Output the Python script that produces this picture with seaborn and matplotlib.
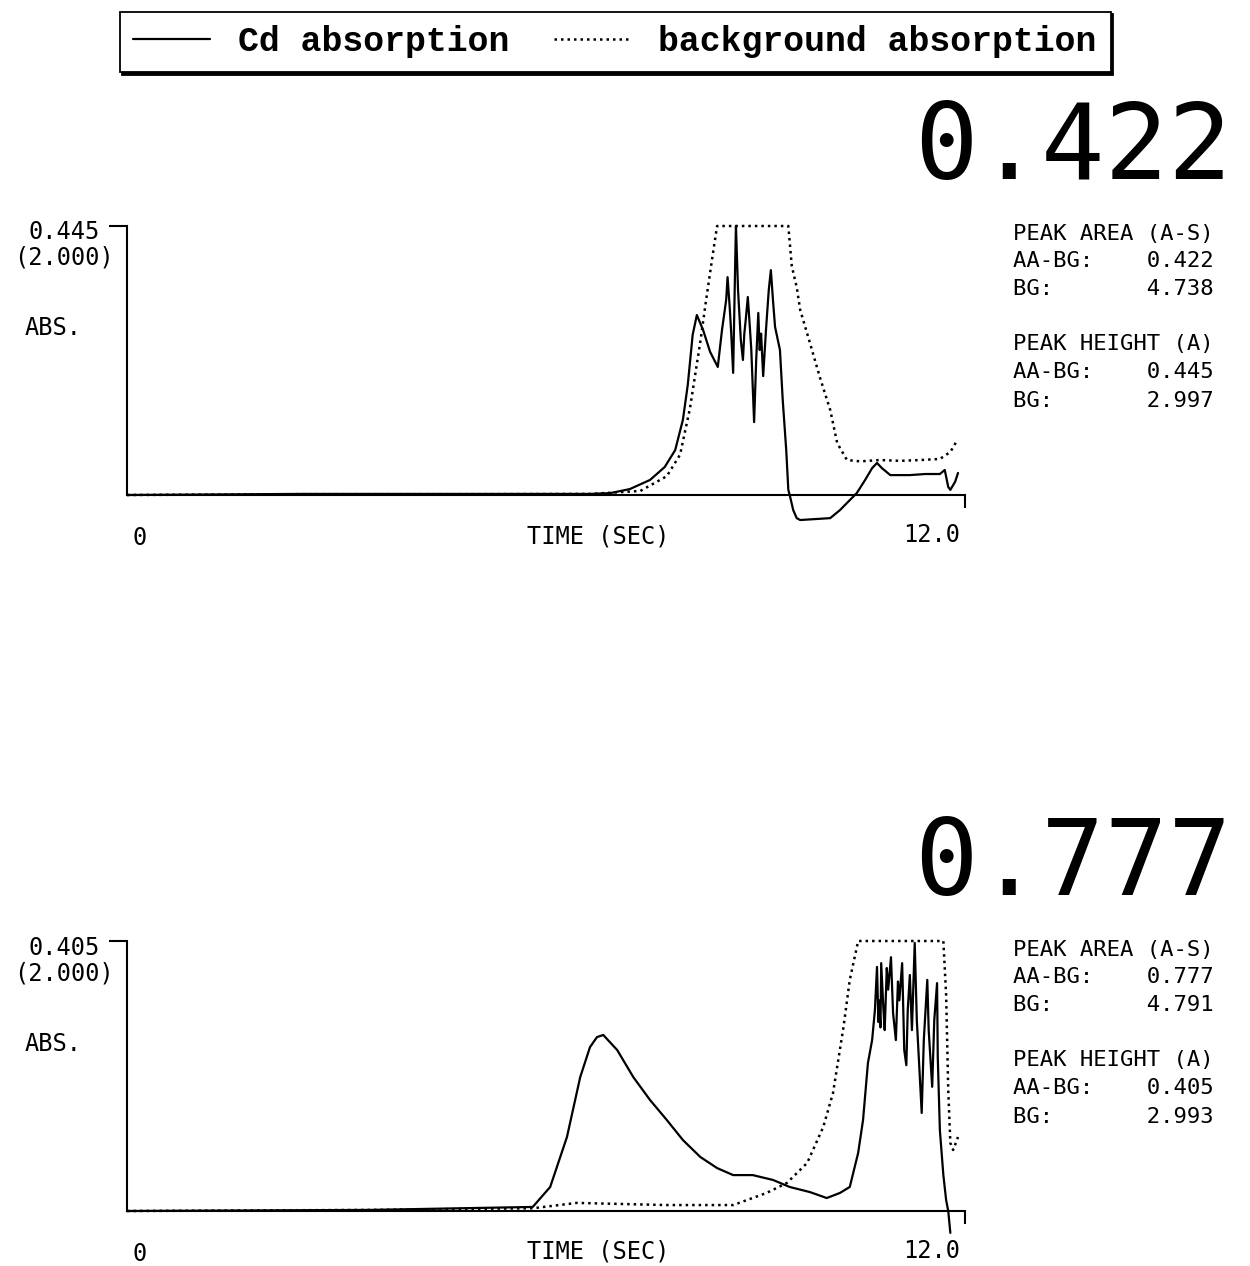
import matplotlib
matplotlib.use("Agg")
import matplotlib.pyplot as plt
import seaborn as sns
from matplotlib.font_manager import FontProperties
from matplotlib.lines import Line2D

# ---- data (time in seconds, absorbance as fraction of full scale) ----
top_cd_t = [0.0, 2.48, 4.77, 6.63, 6.92, 7.20, 7.49, 7.70, 7.85, 7.96, 8.03, 8.10, 8.16,
            8.25, 8.35, 8.46, 8.52, 8.58, 8.60, 8.63, 8.65, 8.68, 8.71, 8.72, 8.75, 8.79,
            8.82, 8.84, 8.86, 8.89, 8.92, 8.94, 8.98, 9.01, 9.04, 9.06, 9.08, 9.11, 9.15,
            9.19, 9.22, 9.25, 9.28, 9.32, 9.35, 9.39, 9.44, 9.47, 9.49, 9.54, 9.59, 9.64,
            10.07, 10.21, 10.35, 10.45, 10.57, 10.67, 10.74, 10.81, 10.93, 11.21, 11.43,
            11.64, 11.71, 11.76, 11.79, 11.86, 11.90]
top_cd_abs = [0.0, 0.004, 0.004, 0.004, 0.007, 0.022, 0.056, 0.104, 0.167, 0.279, 0.409,
              0.595, 0.669, 0.613, 0.532, 0.476, 0.613, 0.725, 0.810, 0.700, 0.613, 0.454,
              0.874, 1.0, 0.762, 0.576, 0.502, 0.600, 0.651, 0.736, 0.620, 0.539, 0.271,
              0.502, 0.677, 0.539, 0.600, 0.442, 0.613, 0.762, 0.836, 0.725, 0.625, 0.576,
              0.539, 0.353, 0.167, 0.019, 0.0, -0.056, -0.086, -0.093, -0.086, -0.056,
              -0.019, 0.007, 0.056, 0.100, 0.119, 0.100, 0.074, 0.074, 0.078, 0.078,
              0.093, 0.030, 0.019, 0.050, 0.082]

top_bg_t = [0.0, 2.48, 4.77, 6.63, 7.35, 7.73, 7.92, 8.06, 8.21, 8.29, 8.38, 8.45, 9.47,
            9.52, 9.59, 9.64, 9.78, 9.92, 10.07, 10.17, 10.31, 10.50, 10.78, 11.07, 11.36,
            11.64, 11.79, 11.89]
top_bg_abs = [0.0, 0.003, 0.003, 0.004, 0.015, 0.07, 0.15, 0.32, 0.57, 0.72, 0.88, 1.0,
              1.0, 0.85, 0.773, 0.688, 0.565, 0.439, 0.316, 0.193, 0.130, 0.125, 0.130,
              0.127, 0.130, 0.134, 0.160, 0.204]

bot_cd_t = [0.0, 3.48, 5.81, 6.06, 6.30, 6.49, 6.63, 6.73, 6.82, 7.02, 7.25, 7.49, 7.73,
            7.96, 8.21, 8.45, 8.68, 8.96, 9.25, 9.49, 9.78, 10.02, 10.21, 10.35, 10.47,
            10.54, 10.61, 10.67, 10.71, 10.74, 10.76, 10.77, 10.79, 10.80, 10.83, 10.85,
            10.88, 10.90, 10.94, 10.97, 11.01, 11.04, 11.06, 11.10, 11.13, 11.16, 11.18,
            11.21, 11.24, 11.28, 11.31, 11.34, 11.38, 11.41, 11.46, 11.48, 11.53, 11.56,
            11.60, 11.61, 11.64, 11.69, 11.73, 11.76, 11.79]
bot_cd_abs = [0.0, 0.004, 0.015, 0.089, 0.274, 0.496, 0.607, 0.644, 0.652, 0.596, 0.496,
              0.411, 0.337, 0.263, 0.200, 0.159, 0.133, 0.133, 0.115, 0.089, 0.070, 0.048,
              0.067, 0.089, 0.215, 0.337, 0.548, 0.633, 0.744, 0.904, 0.700, 0.780, 0.680,
              0.918, 0.756, 0.670, 0.900, 0.820, 0.940, 0.733, 0.633, 0.850, 0.780, 0.918,
              0.596, 0.540, 0.744, 0.874, 0.670, 0.993, 0.707, 0.560, 0.363, 0.633, 0.856,
              0.670, 0.460, 0.707, 0.844, 0.570, 0.300, 0.133, 0.040, 0.0, -0.081]

bot_bg_t = [0.0, 3.48, 5.81, 6.44, 7.73, 8.68, 9.16, 9.45, 9.74, 9.97, 10.11, 10.26, 10.35,
            10.47, 11.69, 11.73, 11.76, 11.79, 11.83, 11.90]
bot_bg_abs = [0.0, 0.004, 0.010, 0.030, 0.022, 0.022, 0.067, 0.104, 0.178, 0.311, 0.437,
              0.681, 0.856, 1.0, 1.0, 0.80, 0.448, 0.252, 0.226, 0.274]

big_values = ["0.422", "0.777"]
top_scale = ["0.445", "(2.000)"]
bot_scale = ["0.405", "(2.000)"]
top_side = ["PEAK AREA (A-S)", "AA-BG:    0.422", "BG:       4.738",
            "PEAK HEIGHT (A)", "AA-BG:    0.445", "BG:       2.997"]
bot_side = ["PEAK AREA (A-S)", "AA-BG:    0.777", "BG:       4.791",
            "PEAK HEIGHT (A)", "AA-BG:    0.405", "BG:       2.993"]
legend_labels = ["Cd absorption", "background absorption"]

W, H = 1250, 1266


def fx(px):
    return px / W


def fy(py):
    return 1 - py / H


sns.set_theme(style="white")
plt.rcParams['font.family'] = ['DejaVu Sans Mono']
plt.rcParams['text.color'] = 'black'

fig = plt.figure(figsize=(12.5, 12.66), dpi=100)


def make_panel(base_py, scale_py, cd_t, cd_a, bg_t, bg_a, big, scale_lbl, side):
    # axes box: 0..12 s spans px 127..965, 1.0 spans scale_py pixels
    y_lo, y_hi = -0.13, 1.03
    top_px = base_py - y_hi * scale_py
    bot_px = base_py - y_lo * scale_py
    ax = fig.add_axes([fx(127), fy(bot_px), fx(965) - fx(127), (bot_px - top_px) / H])
    ax.set_xlim(0, 12)
    ax.set_ylim(y_lo, y_hi)
    ax.patch.set_alpha(0)

    sns.lineplot(x=cd_t, y=cd_a, ax=ax, color='black', lw=1.6, estimator=None,
                 sort=False, label=legend_labels[0])
    sns.lineplot(x=bg_t, y=bg_a, ax=ax, color='black', lw=1.8, estimator=None,
                 sort=False, linestyle=(0, (1, 1.6)), label=legend_labels[1])
    if ax.get_legend() is not None:
        ax.get_legend().remove()

    for s in ['top', 'right']:
        ax.spines[s].set_visible(False)
    ax.spines['left'].set_bounds(0, 1)
    ax.spines['left'].set_position(('data', 0))
    ax.spines['bottom'].set_position(('data', 0))
    ax.spines['bottom'].set_bounds(0, 12)
    for s in ['left', 'bottom']:
        ax.spines[s].set_color('black')
        ax.spines[s].set_linewidth(1.5)
    ax.set_yticks([1.0])
    ax.set_xticks([12])
    ax.tick_params(axis='y', direction='out', length=13, width=1.5, color='black',
                   labelleft=False, left=True)
    ax.tick_params(axis='x', direction='out', length=9, width=1.5, color='black',
                   labelbottom=False, bottom=True)
    ax.set_xlabel('')
    ax.set_ylabel('')
    ax.grid(False)

    # scale labels on the left
    fig.text(fx(100), fy(base_py - 263), scale_lbl[0], ha='right', va='center', fontsize=17)
    fig.text(fx(114), fy(base_py - 237), scale_lbl[1], ha='right', va='center', fontsize=17)
    fig.text(fx(25), fy(base_py - 167), "ABS.", ha='left', va='center', fontsize=17)

    # time axis labels
    fig.text(fx(140), fy(base_py + 43), "0", ha='center', va='center', fontsize=17)
    fig.text(fx(598), fy(base_py + 41), "TIME (SEC)", ha='center', va='center', fontsize=17)
    fig.text(fx(932), fy(base_py + 40), "12.0", ha='center', va='center', fontsize=17)

    # big result number
    fig.text(fx(1232), fy(base_py - 316), big, ha='right', va='baseline', fontsize=76)

    # side panel
    offsets = [255, 228, 200, 145, 117, 88]
    for line, off in zip(side, offsets):
        fig.text(fx(1013), fy(base_py - off), line, ha='left', va='baseline', fontsize=16)
    return ax


ax1 = make_panel(495, 269, top_cd_t, top_cd_abs, top_bg_t, top_bg_abs,
                 big_values[0], top_scale, top_side)
ax2 = make_panel(1211, 270, bot_cd_t, bot_cd_abs, bot_bg_t, bot_bg_abs,
                 big_values[1], bot_scale, bot_side)

handles, labels = ax1.get_legend_handles_labels()
if not handles:
    handles = [Line2D([], [], color='black', lw=1.6),
               Line2D([], [], color='black', lw=1.8, linestyle=(0, (1, 1.6)))]
    labels = legend_labels
leg = fig.legend(handles, labels, loc='center', bbox_to_anchor=(fx(615), fy(42)),
                 ncol=2, frameon=True, fancybox=False,
                 shadow={'color': 'black', 'alpha': 1.0},
                 edgecolor='black', framealpha=1.0,
                 prop=FontProperties(family='Liberation Mono', weight='bold', size=25),
                 handlelength=2.2, handletextpad=0.8, columnspacing=1.3, borderpad=0.4)
leg.get_frame().set_linewidth(1.3)
for txt in leg.get_texts():
    txt.set_color('black')

fig.savefig("out.png", dpi=100)
